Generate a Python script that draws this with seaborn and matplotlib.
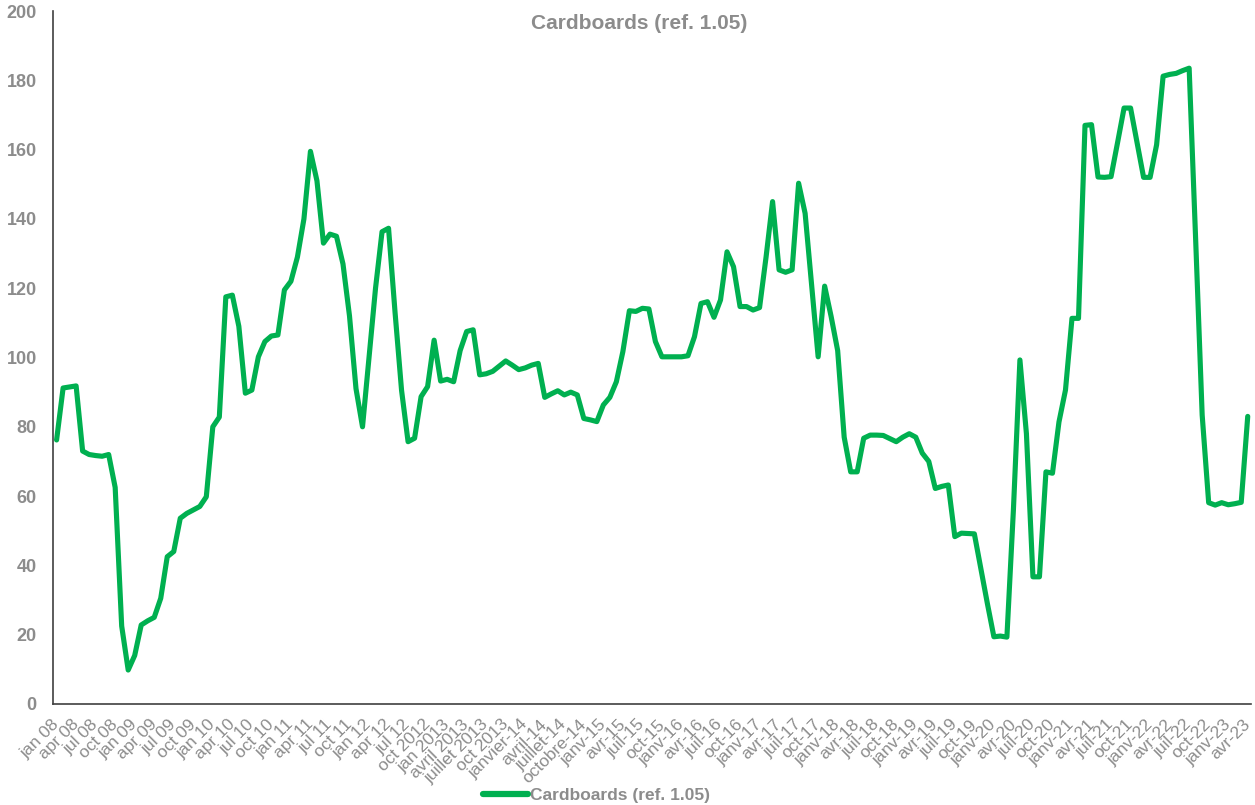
import matplotlib
matplotlib.use("Agg")
import matplotlib.pyplot as plt
import numpy as np
import pandas as pd
import seaborn as sns

# Monthly index, January 2008 to April 2023
values = [
    76.2, 91.2, 91.5, 91.8, 73.0, 72.0, 71.7, 71.5, 72.0, 62.5, 22.5, 9.8,      # 2008
    14.0, 22.8, 24.0, 25.0, 30.5, 42.5, 44.0, 53.6, 55.0, 56.0, 57.0, 59.8,     # 2009
    80.0, 82.8, 117.5, 118.0, 109.0, 89.7, 90.6, 100.2, 104.6, 106.2, 106.5, 119.5,  # 2010
    122.0, 129.0, 140.0, 159.5, 151.0, 133.0, 135.6, 135.0, 127.0, 112.0, 91.0, 80.0,  # 2011
    100.0, 120.0, 136.3, 137.3, 113.0, 90.5, 75.7, 76.7, 88.7, 91.6, 105.0, 93.2,  # 2012
    93.7, 93.0, 102.0, 107.5, 108.0, 95.0, 95.3, 96.0, 97.5, 99.0, 97.8, 96.5,  # 2013
    97.0, 97.8, 98.3, 88.5, 89.5, 90.4, 89.2, 90.0, 89.2, 82.4, 82.0, 81.5,     # 2014
    86.3, 88.5, 93.0, 101.7, 113.5, 113.3, 114.2, 114.0, 104.6, 100.2, 100.2, 100.2,  # 2015
    100.2, 100.5, 106.0, 115.6, 116.1, 111.6, 116.6, 130.5, 126.2, 114.7, 114.7, 113.7,  # 2016
    114.4, 129.0, 145.0, 125.3, 124.6, 125.3, 150.3, 141.6, 121.0, 100.2, 120.6, 111.8,  # 2017
    102.0, 77.0, 67.0, 67.0, 76.7, 77.6, 77.6, 77.5, 76.6, 75.7, 77.0, 78.0,    # 2018
    77.0, 72.4, 70.0, 62.2, 62.8, 63.2, 48.3, 49.3, 49.2, 49.1, 39.0, 29.0,     # 2019
    19.4, 19.6, 19.3, 56.0, 99.3, 78.0, 36.7, 36.7, 67.0, 66.6, 81.4, 90.6,     # 2020
    111.3, 111.3, 167.0, 167.2, 152.1, 152.0, 152.2, 162.0, 172.0, 172.0, 162.0, 152.0,  # 2021
    152.0, 161.4, 181.2, 181.7, 182.0, 182.8, 183.5, 134.0, 83.4, 58.1, 57.4, 58.1,  # 2022
    57.5, 57.8, 58.2, 83.0,                                                        # 2023
]

quarter_labels = [
    "jan 08", "apr 08", "jul 08", "oct 08",
    "jan 09", "apr 09", "jul 09", "oct 09",
    "jan 10", "apr 10", "jul 10", "oct 10",
    "jan 11", "apr 11", "jul 11", "oct 11",
    "jan 12", "apr 12", "jul 12", "oct 2012",
    "jan 2013", "avril 2013", "juillet 2013", "oct 2013",
    "janvier-14", "avril-14", "juillet-14", "octobre-14",
    "janv-15", "avr-15", "juil-15", "oct-15",
    "janv-16", "avr-16", "juil-16", "oct-16",
    "janv-17", "avr-17", "juil-17", "oct-17",
    "janv-18", "avr-18", "juil-18", "oct-18",
    "janv-19", "avr-19", "juil-19", "oct-19",
    "janv-20", "avr-20", "juil-20", "oct-20",
    "janv-21", "avr-21", "juil-21", "oct-21",
    "janv-22", "avr-22", "juil-22", "oct-22",
    "janv-23", "avr-23",
]

series_name = "Cardboards (ref. 1.05)"
line_color = "#00B050"
text_gray = "#8C8C8C"
axis_color = "#404040"

sns.set_theme(style="white")
plt.rcParams["font.family"] = ["Liberation Sans", "DejaVu Sans"]

df = pd.DataFrame({"month": np.arange(len(values)), "value": values, "series": series_name})

fig = plt.figure(figsize=(12.55, 8.05), dpi=100)
ax = fig.add_axes([0.0425, 0.1255, 0.9543, 0.8608])

sns.lineplot(data=df, x="month", y="value", hue="series", palette=[line_color],
             linewidth=3.7, ax=ax, legend=False)
ax.lines[0].set_solid_joinstyle("round")

n = len(values)
ax.set_xlim(-0.5, n - 0.5)
ax.set_ylim(0, 200)

# Tick marks every four months on category boundaries, labels every quarter
ax.set_xticks(np.arange(-0.5, n, 4))
ax.set_xticklabels([])
ax.set_xticks(np.arange(0, n, 3), minor=True)
ax.set_xticklabels(quarter_labels, minor=True, rotation=45, ha="right", va="center",
                   rotation_mode="anchor", color=text_gray, fontsize=12.5)
ax.tick_params(axis="x", which="major", direction="inout", length=9, width=1, color=axis_color)
ax.tick_params(axis="x", which="minor", length=0, pad=13)

ax.set_yticks(np.arange(0, 201, 20))
ax.tick_params(axis="y", direction="inout", length=10, width=1, color=axis_color,
               pad=7, labelsize=13, labelcolor=text_gray)
for lbl in ax.get_yticklabels():
    lbl.set_fontweight("bold")

ax.set_xlabel("")
ax.set_ylabel("")
for side in ("top", "right"):
    ax.spines[side].set_visible(False)
for side in ("left", "bottom"):
    ax.spines[side].set_color(axis_color)
    ax.spines[side].set_linewidth(1.2)

fig.text(0.5095, 0.971, series_name, ha="center", va="center",
         fontsize=15, fontweight="bold", color=text_gray)

handle = plt.Line2D([], [], color=line_color, linewidth=4.5, solid_capstyle="round")
leg = fig.legend([handle], [series_name], loc="center", bbox_to_anchor=(0.475, 0.012),
                 frameon=False, handlelength=2.6, handletextpad=0.1,
                 prop={"weight": "bold", "size": 12.5})
for t in leg.get_texts():
    t.set_color(text_gray)

fig.savefig("out.png", dpi=100)
